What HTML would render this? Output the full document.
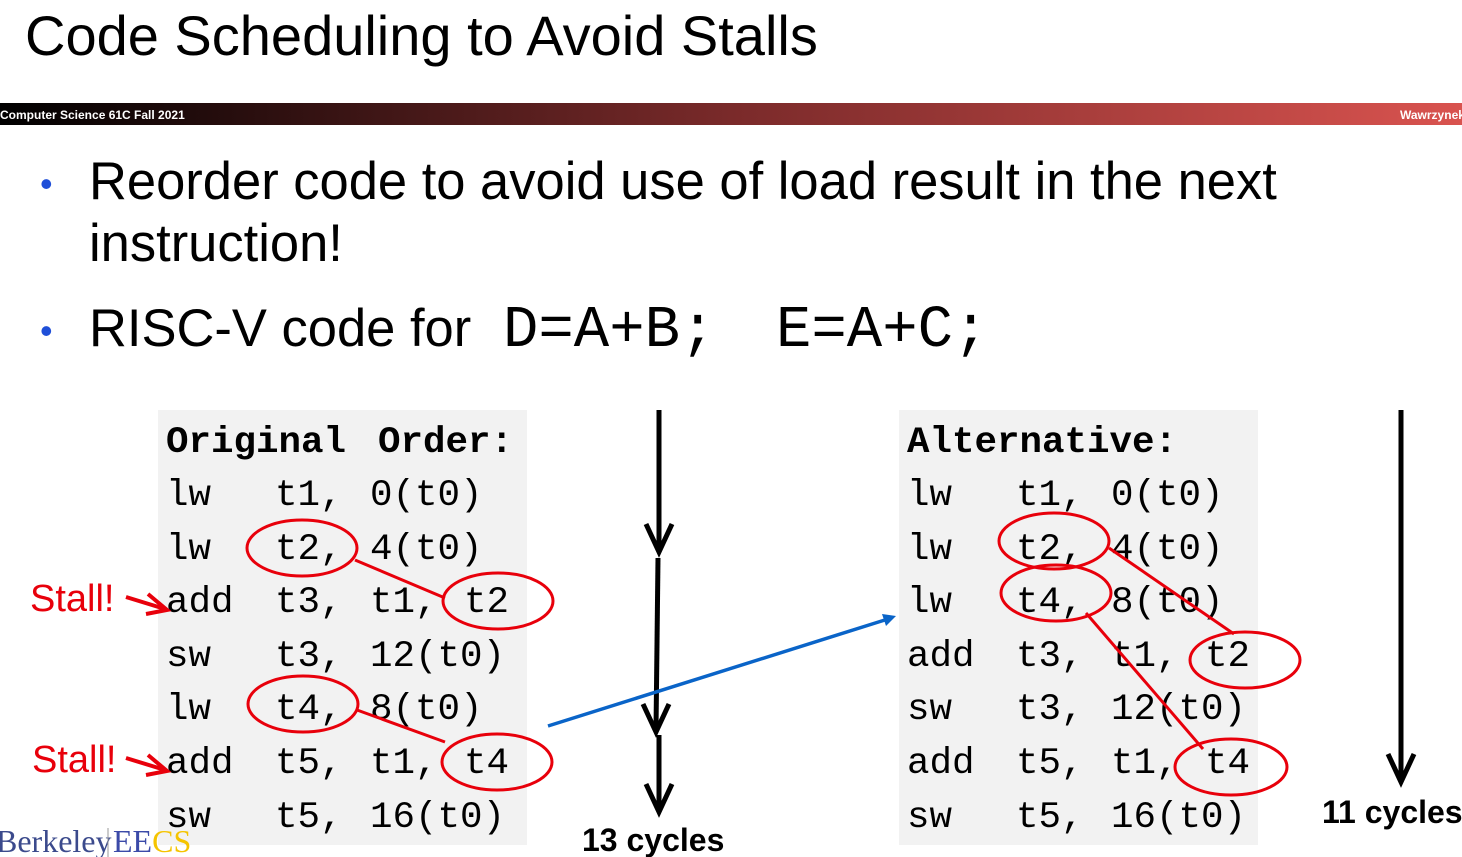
<!DOCTYPE html>
<html><head><meta charset="utf-8"><style>
body{margin:0;background:#fff;width:1462px;height:857px;overflow:hidden}
svg{display:block}
</style></head><body>
<svg width="1462" height="857" xmlns="http://www.w3.org/2000/svg">
<defs>
<linearGradient id="g" x1="0" x2="1"><stop offset="0" stop-color="#000"/><stop offset="0.5" stop-color="#7a2a2a"/><stop offset="1" stop-color="#d9534f"/></linearGradient>
</defs>
<text x="25" y="55" font-family="Liberation Sans, sans-serif" font-size="56" fill="#000">Code Scheduling to Avoid Stalls</text>
<rect x="0" y="103" width="1462" height="22" fill="url(#g)"/>
<text x="0" y="119" font-family="Liberation Sans, sans-serif" font-size="12" font-weight="bold" fill="#fff">Computer Science 61C Fall 2021</text>
<text x="1400" y="119" font-family="Liberation Sans, sans-serif" font-size="12" font-weight="bold" fill="#fff">Wawrzynek</text>
<g font-family="Liberation Sans, sans-serif" font-size="52.5" fill="#000">
<text x="40" y="196" fill="#1f4fd8" font-size="36">•</text>
<text x="89" y="199">Reorder code to avoid use of load result in the next</text>
<text x="89" y="261">instruction!</text>
<text x="40" y="343" fill="#1f4fd8" font-size="36">•</text>
<text x="89" y="346">RISC-V code for</text>
<text x="503" y="346" font-family="Liberation Mono, monospace" font-size="59">D=A+B;</text>
<text x="776" y="346" font-family="Liberation Mono, monospace" font-size="59">E=A+C;</text>
</g>
<rect x="158" y="410" width="369" height="435" fill="#f2f2f2"/>
<rect x="899" y="410" width="359" height="435" fill="#f2f2f2"/>
<g font-family="Liberation Mono, monospace" font-size="37.5" fill="#000">
<text x="166" y="452" font-weight="bold">Original</text><text x="378" y="452" font-weight="bold">Order:</text>
<text x="166" y="505">lw</text><text x="275" y="505">t1,</text><text x="370" y="505">0(t0)</text>
<text x="166" y="559">lw</text><text x="275" y="559">t2,</text><text x="370" y="559">4(t0)</text>
<text x="166" y="612">add</text><text x="275" y="612">t3,</text><text x="370" y="612">t1,</text><text x="464" y="612">t2</text>
<text x="166" y="666">sw</text><text x="275" y="666">t3,</text><text x="370" y="666">12(t0)</text>
<text x="166" y="719">lw</text><text x="275" y="719">t4,</text><text x="370" y="719">8(t0)</text>
<text x="166" y="773">add</text><text x="275" y="773">t5,</text><text x="370" y="773">t1,</text><text x="464" y="773">t4</text>
<text x="166" y="827">sw</text><text x="275" y="827">t5,</text><text x="370" y="827">16(t0)</text>

<text x="907" y="452" font-weight="bold">Alternative:</text>
<text x="907" y="505">lw</text><text x="1016" y="505">t1,</text><text x="1111" y="505">0(t0)</text>
<text x="907" y="559">lw</text><text x="1016" y="559">t2,</text><text x="1111" y="559">4(t0)</text>
<text x="907" y="612">lw</text><text x="1016" y="612">t4,</text><text x="1111" y="612">8(t0)</text>
<text x="907" y="666">add</text><text x="1016" y="666">t3,</text><text x="1111" y="666">t1,</text><text x="1205" y="666">t2</text>
<text x="907" y="719">sw</text><text x="1016" y="719">t3,</text><text x="1111" y="719">12(t0)</text>
<text x="907" y="773">add</text><text x="1016" y="773">t5,</text><text x="1111" y="773">t1,</text><text x="1205" y="773">t4</text>
<text x="907" y="827">sw</text><text x="1016" y="827">t5,</text><text x="1111" y="827">16(t0)</text>
</g>
<g fill="none" stroke="#e8000b" stroke-width="3">
<ellipse cx="302" cy="548" rx="55" ry="28"/>
<ellipse cx="498" cy="601" rx="55" ry="28"/>
<ellipse cx="303" cy="704" rx="55" ry="28"/>
<ellipse cx="497" cy="762" rx="55" ry="28"/>
<line x1="355" y1="560" x2="445" y2="598"/>
<line x1="357" y1="710" x2="445" y2="742"/>
<ellipse cx="1054" cy="541" rx="55" ry="28"/>
<ellipse cx="1056" cy="593" rx="55" ry="28"/>
<ellipse cx="1245" cy="660" rx="55" ry="28"/>
<ellipse cx="1231" cy="767" rx="56" ry="28"/>
<line x1="1109" y1="548" x2="1234" y2="634"/>
<line x1="1086" y1="613" x2="1203" y2="749"/>
<line x1="126" y1="597" x2="165" y2="609" stroke-width="4"/>
<polyline points="148,594 167,610 146,614" stroke-width="4"/>
<line x1="126" y1="758" x2="165" y2="770" stroke-width="4"/>
<polyline points="148,755 167,771 146,775" stroke-width="4"/>
</g>
<g font-family="Liberation Sans, sans-serif" font-size="38" fill="#e8000b">
<text x="30" y="611">Stall!</text>
<text x="32" y="772">Stall!</text>
</g>
<g stroke="#000" stroke-width="5" fill="none">
<line x1="659" y1="410" x2="659" y2="550"/>
<polyline points="646,524 659,552 672,524"/>
<line x1="658" y1="558" x2="656" y2="730"/>
<polyline points="643,704 656,732 669,704"/>
<line x1="659" y1="735" x2="659" y2="810"/>
<polyline points="646,784 659,812 672,784"/>
<line x1="1401" y1="410" x2="1401" y2="780"/>
<polyline points="1388,754 1401,782 1414,754"/>
</g>
<line x1="548" y1="726" x2="888" y2="619" stroke="#0a64c8" stroke-width="3.5"/>
<polygon points="896,616 882,614 886,626" fill="#0a64c8"/>
<g font-family="Liberation Sans, sans-serif" font-size="32" font-weight="bold" fill="#000">
<text x="582" y="851">13 cycles</text>
<text x="1322" y="823">11 cycles</text>
</g>
<text x="-4" y="852" font-family="Liberation Serif, serif" font-size="32" fill="#3b4a8c">Berkeley</text>
<line x1="108" y1="828" x2="108" y2="857" stroke="#999"/>
<text x="113" y="852" font-family="Liberation Serif, serif" font-size="32" fill="#3b4aa8">EE<tspan fill="#f5c400">CS</tspan></text>
</svg>
</body></html>
